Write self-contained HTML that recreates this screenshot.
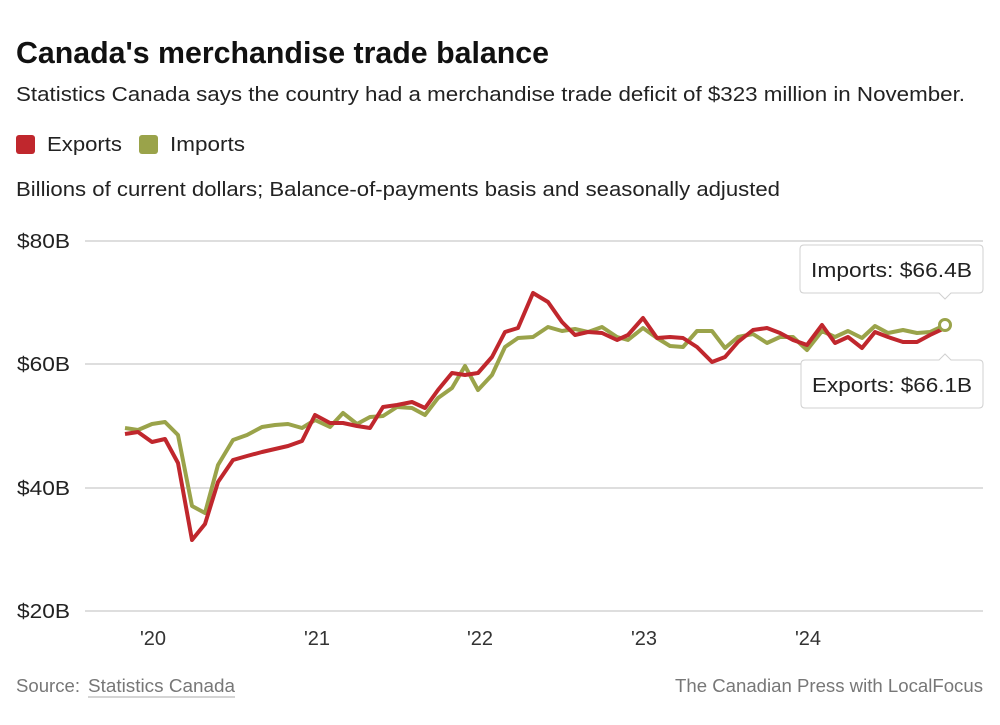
<!DOCTYPE html>
<html><head><meta charset="utf-8"><style>
body{margin:0;background:#fff;width:1000px;height:725px;overflow:hidden;font-family:"Liberation Sans",sans-serif;}
svg{position:absolute;left:0;top:0}
</style></head><body>
<svg width="1000" height="725" viewBox="0 0 1000 725" font-family="Liberation Sans, sans-serif">
<text x="16" y="63" font-size="31" font-weight="bold" fill="#111" textLength="533" lengthAdjust="spacingAndGlyphs">Canada's merchandise trade balance</text>
<text x="16" y="101" font-size="20" fill="#222" textLength="949" lengthAdjust="spacingAndGlyphs">Statistics Canada says the country had a merchandise trade deficit of $323 million in November.</text>
<rect x="16" y="135" width="19" height="19" rx="3" fill="#c0272d"/>
<text x="47" y="151" font-size="20" fill="#222" textLength="75" lengthAdjust="spacingAndGlyphs">Exports</text>
<rect x="139" y="135" width="19" height="19" rx="3" fill="#9aa34a"/>
<text x="170" y="151" font-size="20" fill="#222" textLength="75" lengthAdjust="spacingAndGlyphs">Imports</text>
<text x="16" y="196" font-size="20" fill="#222" textLength="764" lengthAdjust="spacingAndGlyphs">Billions of current dollars; Balance-of-payments basis and seasonally adjusted</text>
<g stroke="#d4d4d4" stroke-width="1.5">
<line x1="85" y1="241" x2="983" y2="241"/><line x1="85" y1="364" x2="983" y2="364"/>
<line x1="85" y1="488" x2="983" y2="488"/><line x1="85" y1="611" x2="983" y2="611"/>
</g>
<g font-size="20" fill="#222">
<text x="17" y="248" textLength="53" lengthAdjust="spacingAndGlyphs">$80B</text><text x="17" y="371" textLength="53" lengthAdjust="spacingAndGlyphs">$60B</text><text x="17" y="495" textLength="53" lengthAdjust="spacingAndGlyphs">$40B</text><text x="17" y="618" textLength="53" lengthAdjust="spacingAndGlyphs">$20B</text>
</g>
<g font-size="20" fill="#333" text-anchor="middle">
<text x="153" y="645">'20</text><text x="317" y="645">'21</text><text x="480" y="645">'22</text><text x="644" y="645">'23</text><text x="808" y="645">'24</text>
</g>
<polyline fill="none" stroke="#9aa34a" stroke-width="4" stroke-linejoin="round" points="125,428 138,430 152,424 165,422 178,435 192,506 205,513 218,465 233,440 247,435 262,427 275,425 288,424 302,428 315,420 330,427 343,413 357,424 370,417 383,416 397,407 412,408 425,415 438,398 452,388 465,366 478,390 492,375 505,347 518,338 533,337 548,327 562,331 575,329 588,332 602,327 617,337 628,340 643,328 657,338 670,346 683,347 697,331 712,331 725,348 738,337 753,334 767,343 780,337 793,337 807,350 822,331 835,337 848,331 862,338 875,326 888,333 903,330 917,333 930,332 945,325"/>
<polyline fill="none" stroke="#c0272d" stroke-width="4" stroke-linejoin="round" points="125,434 138,432 152,442 165,439 178,463 192,540 205,524 218,482 233,460 247,456 262,452 275,449 288,446 302,441 315,415 330,423 343,423 357,426 370,428 383,407 397,405 412,402 425,408 438,390 452,373 465,375 478,373 492,357 505,332 518,328 533,293 548,302 562,322 575,335 588,332 602,333 617,340 628,335 643,318 657,338 670,337 683,338 697,347 712,362 725,357 738,342 753,330 767,328 780,333 793,340 807,345 822,325 835,343 848,337 862,348 875,332 888,337 903,342 917,342 930,335 945,328"/>
<circle cx="945" cy="325" r="5.5" fill="#fff" stroke="#9aa34a" stroke-width="3"/>
<g fill="#fff" stroke="#d0d0d0" stroke-width="1">
<path d="M804,245 H979 Q983,245 983,249 V289 Q983,293 979,293 H951 L945,299 L939,293 H804 Q800,293 800,289 V249 Q800,245 804,245 Z"/>
<path d="M805,360 H939 L945,354 L951,360 H979 Q983,360 983,364 V404 Q983,408 979,408 H805 Q801,408 801,404 V364 Q801,360 805,360 Z"/>
</g>
<text x="811" y="277" font-size="20" fill="#222" textLength="161" lengthAdjust="spacingAndGlyphs">Imports: $66.4B</text>
<text x="812" y="392" font-size="20" fill="#222" textLength="160" lengthAdjust="spacingAndGlyphs">Exports: $66.1B</text>
<text x="16" y="692" font-size="18" fill="#777" textLength="64" lengthAdjust="spacingAndGlyphs">Source:</text>
<text x="88" y="692" font-size="18" fill="#777" textLength="147" lengthAdjust="spacingAndGlyphs">Statistics Canada</text>
<line x1="88" y1="697" x2="235" y2="697" stroke="#aaa" stroke-width="1"/>
<text x="675" y="692" font-size="18" fill="#777" textLength="308" lengthAdjust="spacingAndGlyphs">The Canadian Press with LocalFocus</text>
</svg>
</body></html>
